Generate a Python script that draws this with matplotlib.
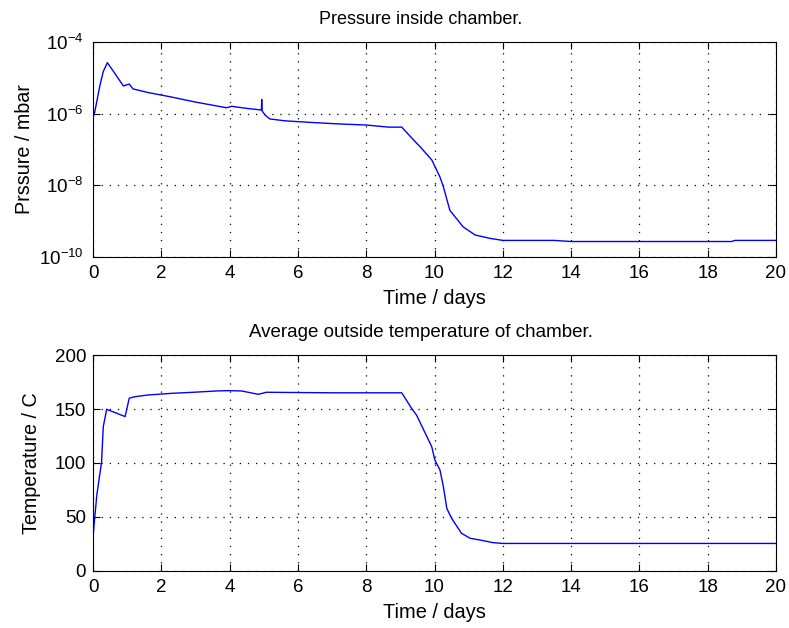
import matplotlib
matplotlib.use('Agg')
import matplotlib.pyplot as plt
import matplotlib.ticker as mticker
import numpy as np

plt.rcParams['font.family'] = ['Liberation Sans', 'DejaVu Sans']
plt.rcParams['font.size'] = 13.5
plt.rcParams['mathtext.default'] = 'regular'

# Pressure inside chamber (days, mbar)
p_days = [0.0, 0.05, 0.2, 0.3, 0.42, 0.6, 0.89, 1.06, 1.17, 1.6, 2.3, 3.0, 3.91, 4.06,
          4.5, 4.93, 4.94, 4.95, 5.04, 5.18, 5.62, 6.35, 7.13, 8.01, 8.65, 9.04,
          9.48, 9.58, 9.92, 10.16, 10.26, 10.45, 10.84, 11.19, 11.63, 12.0,
          13.5, 14.0, 18.7, 18.8, 20.0]
p_mbar = [8e-7, 1.1e-6, 6e-6, 1.5e-5, 2.64e-5, 1.5e-5, 5.9e-6, 6.7e-6, 4.9e-6, 3.9e-6,
          2.9e-6, 2.1e-6, 1.46e-6, 1.6e-6, 1.4e-6, 1.26e-6, 2.5e-6, 1.2e-6, 9.1e-7,
          7.1e-7, 6.3e-7, 5.7e-7, 5.2e-7, 4.8e-7, 4.2e-7, 4.2e-7, 1.48e-7, 1.19e-7,
          5.1e-8, 1.7e-8, 9.1e-9, 2e-9, 6.9e-10, 4.1e-10, 3.3e-10, 2.9e-10,
          2.9e-10, 2.7e-10, 2.7e-10, 2.9e-10, 2.9e-10]

# Average outside temperature (days, C)
t_days = [0.0, 0.11, 0.25, 0.30, 0.40, 0.94, 1.06, 1.23, 1.62, 2.3, 2.94, 3.62, 3.96,
          4.35, 4.84, 5.08, 7.0, 9.04, 9.33, 9.48, 9.92, 10.01, 10.16, 10.26, 10.36,
          10.5, 10.79, 11.04, 11.33, 11.72, 12.0, 20.0]
t_temp = [32, 70, 101, 133.6, 149.7, 143, 160, 161.4, 163, 164.5, 165.5, 166.7, 167,
          166.7, 163.6, 165.5, 165, 165, 150.6, 144, 115, 102.8, 93.5, 78, 58,
          48.8, 34.9, 30.3, 28.7, 26.2, 25.5, 25.5]

fig = plt.figure(figsize=(7.89, 6.28), dpi=100)
ax1 = fig.add_axes([0.1179, 0.5908, 0.8656, 0.3424])
ax2 = fig.add_axes([0.1179, 0.0908, 0.8656, 0.3439])


def matlab_style(ax, ypad):
    ax.tick_params(direction='in', top=True, right=True, length=5, width=0.8,
                   labelsize=13.5, colors='black')
    ax.tick_params(axis='x', pad=6)
    ax.tick_params(axis='y', pad=ypad)
    ax.tick_params(which='minor', left=False, right=False)
    ax.grid(True, color='black', linestyle=(0, (1, 5.5)), linewidth=0.9)
    for s in ax.spines.values():
        s.set_linewidth(0.8)


# Top: pressure
ax1.semilogy(p_days, p_mbar, color='#0000ff', linewidth=1)
ax1.set_xlim(0, 20)
ax1.set_ylim(1e-10, 1e-4)
ax1.set_xticks(np.arange(0, 21, 2))
ax1.set_yticks([1e-10, 1e-8, 1e-6, 1e-4])
ax1.yaxis.set_minor_locator(mticker.NullLocator())
ax1.yaxis.set_major_formatter(mticker.FuncFormatter(
    lambda v, pos: '$10^{%d}$' % round(np.log10(v))))
ax1.set_title('Pressure inside chamber.', fontsize=13, pad=13, x=0.48)
ax1.set_xlabel('Time / days', fontsize=14.4, labelpad=5)
ax1.set_ylabel('Prssure / mbar', fontsize=14.2, labelpad=3)
matlab_style(ax1, 7)

# Bottom: temperature
ax2.plot(t_days, t_temp, color='#0000ff', linewidth=1)
ax2.set_xlim(0, 20)
ax2.set_ylim(0, 200)
ax2.set_xticks(np.arange(0, 21, 2))
ax2.set_yticks(np.arange(0, 201, 50))
ax2.set_title('Average outside temperature of chamber.', fontsize=13.5, pad=13,
              x=0.48)
ax2.set_xlabel('Time / days', fontsize=14.4, labelpad=5)
ax2.set_ylabel('Temperature / C', fontsize=14.2, labelpad=10)
matlab_style(ax2, 5)

fig.savefig('out.png', dpi=100)
